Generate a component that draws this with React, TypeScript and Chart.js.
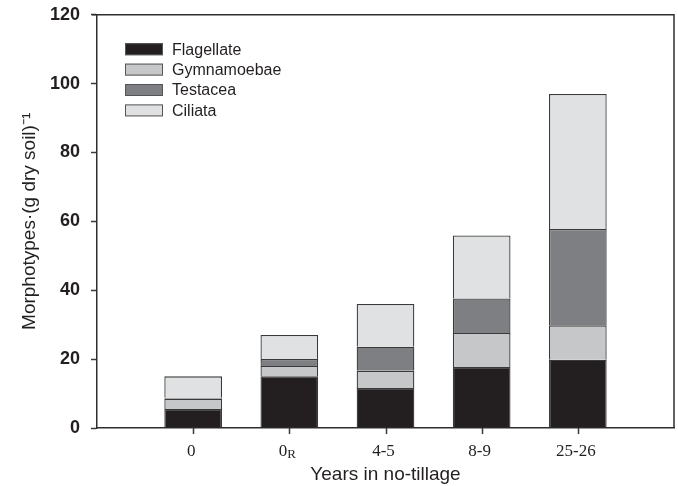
import React, { useEffect, useRef } from "react";
import { Chart, registerables } from "chart.js";

Chart.register(...registerables);

// ---- data ----
const categories = ["0", "0", "4-5", "8-9", "25-26"];
const categorySubscripts = ["", "R", "", "", ""];
const flagellate = [5.5, 15, 11.6, 17.7, 19.8];
const gymnamoebae = [3, 3, 5, 9.9, 10];
const testacea = [0.3, 2, 7, 10, 28];
const ciliata = [6.2, 7, 12.4, 18.3, 39.2];
const seriesNames = ["Flagellate", "Gymnamoebae", "Testacea", "Ciliata"];
const seriesColors = ["#231f20", "#c6c7c8", "#7e7f82", "#e0e1e3"];
const yTicks = [0, 20, 40, 60, 80, 100, 120];

const INK = "#231f20";

export default function App() {
  const ref = useRef<HTMLCanvasElement | null>(null);

  useEffect(() => {
    document.body.style.margin = "0";
    const canvas = ref.current;
    if (!canvas) return;
    const series = [flagellate, gymnamoebae, testacea, ciliata];
    const datasets = series.map((vals, si) => ({
      label: seriesNames[si],
      data: vals.map((v, i) => ({ x: i + 1, y: v })),
      backgroundColor: seriesColors[si],
      borderColor: "#3a3a3a",
      borderWidth: 1.3,
      barPercentage: 0.6,
      categoryPercentage: 1,
    }));

    const framePlugin = {
      id: "frame",
      afterDraw(chart: any) {
        const { ctx, chartArea } = chart;
        ctx.save();
        ctx.strokeStyle = "#2e2e2e";
        ctx.lineWidth = 1.5;
        ctx.beginPath();
        ctx.moveTo(chartArea.left - 5, chartArea.top);
        ctx.lineTo(chartArea.right, chartArea.top);
        ctx.lineTo(chartArea.right, chartArea.bottom);
        ctx.stroke();

        // x tick marks
        const xs = chart.scales.x;
        ctx.strokeStyle = "#3a3a3a";
        ctx.lineWidth = 1.5;
        categories.forEach((_, i) => {
          const x = Math.round(xs.getPixelForValue(i + 1)) + 0.5;
          ctx.beginPath();
          ctx.moveTo(x, chartArea.bottom);
          ctx.lineTo(x, chartArea.bottom + 6);
          ctx.stroke();
        });

        // x tick labels (with subscript)
        ctx.fillStyle = INK;
        ctx.textBaseline = "alphabetic";
        categories.forEach((c, i) => {
          const x = xs.getPixelForValue(i + 1) - 2;
          ctx.font = "17px 'Liberation Serif', 'Times New Roman', serif";
          const w1 = ctx.measureText(c).width;
          const sub = categorySubscripts[i];
          let w2 = 0;
          if (sub) {
            ctx.font = "13px 'Liberation Serif', 'Times New Roman', serif";
            w2 = ctx.measureText(sub).width;
          }
          const start = x - (w1 + w2) / 2;
          ctx.font = "17px 'Liberation Serif', 'Times New Roman', serif";
          ctx.textAlign = "left";
          ctx.fillText(c, start, 456);
          if (sub) {
            ctx.font = "13px 'Liberation Serif', 'Times New Roman', serif";
            ctx.fillText(sub, start + w1, 458);
          }
        });

        // legend
        const lx = chartArea.left + 28;
        const ly = chartArea.top + 34.5;
        chart.data.datasets.forEach((ds: any, i: number) => {
          const cy = ly + i * 20.4;
          ctx.fillStyle = ds.backgroundColor;
          ctx.fillRect(lx, cy - 6, 38, 12);
          ctx.strokeStyle = "#555";
          ctx.lineWidth = 1;
          ctx.strokeRect(lx + 0.5, cy - 5.5, 37, 11);
          ctx.fillStyle = INK;
          ctx.font = "16px 'Liberation Sans', Arial, sans-serif";
          ctx.textAlign = "left";
          ctx.textBaseline = "middle";
          ctx.fillText(ds.label, lx + 47, cy + 1);
        });
        ctx.restore();
      },
    };

    const chart = new Chart(canvas, {
      type: "bar",
      data: { datasets },
      options: {
        responsive: false,
        animation: false,
        layout: { autoPadding: false, padding: { left: 0, right: 4, top: 14.7, bottom: 0 } },
        plugins: {
          legend: { display: false },
          tooltip: { enabled: false },
        },
        scales: {
          x: {
            type: "linear",
            min: 0,
            max: 6,
            offset: false,
            stacked: true,
            afterBuildTicks: (scale: any) => {
              scale.ticks = categories.map((_, i) => ({ value: i + 1 }));
            },
            afterFit: (scale: any) => {
              scale.height = 58;
              scale.paddingLeft = 0;
              scale.paddingRight = 0;
              scale.paddingTop = 0;
              scale.paddingBottom = 0;
            },
            ticks: { display: false },
            grid: { display: false },
            border: { display: true, color: "#2e2e2e", width: 1.5 },
            title: {
              display: true,
              text: "Years in no-tillage",
              color: INK,
              font: { family: "'Liberation Sans', Arial, sans-serif", size: 19 },
              padding: { top: 0, bottom: 0 },
            },
          },
          y: {
            stacked: true,
            min: 0,
            max: 120,
            afterBuildTicks: (scale: any) => {
              scale.ticks = yTicks.map((v) => ({ value: v }));
            },
            afterFit: (scale: any) => {
              scale.width = 97;
              scale.paddingLeft = 0;
              scale.paddingRight = 0;
              scale.paddingTop = 0;
              scale.paddingBottom = 0;
            },
            ticks: {
              color: INK,
              padding: 11,
              font: { family: "'Liberation Sans', Arial, sans-serif", size: 18, weight: "bold" },
            },
            grid: {
              drawOnChartArea: false,
              drawTicks: true,
              tickLength: 6,
              tickColor: "#3a3a3a",
              tickWidth: 1.5,
            },
            border: { display: true, color: "#2e2e2e", width: 1.5 },
            title: {
              display: true,
              text: "Morphotypes·(g dry soil)⁻¹",
              color: INK,
              font: { family: "'Liberation Sans', Arial, sans-serif", size: 19 },
              padding: { top: 18, bottom: 0 },
            },
          },
        },
      },
      plugins: [framePlugin],
    } as any);

    return () => chart.destroy();
  }, []);

  return (
    <div style={{ position: "absolute", left: 0, top: 0, width: 678, height: 486 }}>
      <canvas ref={ref} width={678} height={486} style={{ width: 678, height: 486 }} />
    </div>
  );
}
